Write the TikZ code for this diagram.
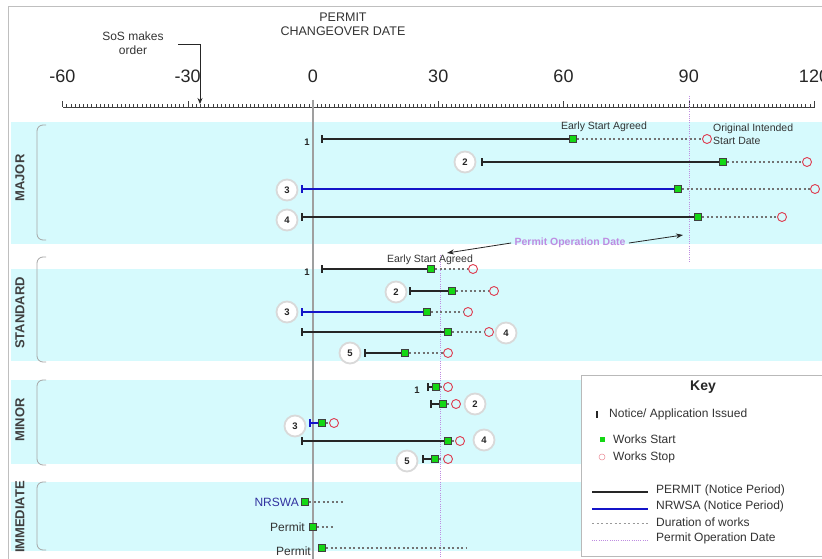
\documentclass[tikz,border=0pt]{standalone}
\usepackage{fontspec}
\setmainfont{Liberation Sans}
\usetikzlibrary{arrows.meta}
\definecolor{bandcyan}{RGB}{214,250,253}
\definecolor{wsgreen}{RGB}{20,215,20}
\definecolor{wsred}{RGB}{222,60,80}
\definecolor{opurple}{RGB}{190,140,225}
\definecolor{nblue}{RGB}{20,20,200}
\definecolor{ntext}{RGB}{50,50,160}
\tikzset{
	wstart/.style={rectangle,draw=black!75,fill=wsgreen,line width=0.6pt,minimum size=7.5pt,inner sep=0pt},
	wstop/.style={circle,draw=wsred,line width=0.9pt,minimum size=9pt,inner sep=0pt},
	notice/.style={rectangle,fill=black!85,minimum width=2.2pt,minimum height=8pt,inner sep=0pt},
	bnotice/.style={notice,fill=nblue},
	permit/.style={line width=2.4pt,black!85},
	nrswa/.style={line width=2.4pt,nblue},
	works/.style={line width=1.3pt,black!55,dash pattern=on 2pt off 2.5pt},
	opdate/.style={line width=1pt,opurple,dash pattern=on 1pt off 1.2pt},
	rowno/.style={font=\fontsize{9.5}{11}\selectfont\bfseries,text=black!85},
	rowcirc/.style={circle,draw=gray!30,line width=1.8pt,fill=white,minimum size=21pt,inner sep=0pt,font=\fontsize{9.5}{11}\selectfont\bfseries,text=black!85},
	band/.style={fill=bandcyan},
	bracket/.style={draw=gray!70,line width=0.8pt,rounded corners=6pt},
	bandname/.style={rotate=90,font=\fontsize{13}{15}\selectfont\bfseries,text=black!75},
	note/.style={font=\fontsize{10.5}{13}\selectfont,text=black!80},
	keytxt/.style={font=\fontsize{12}{14}\selectfont,text=black!80,anchor=west,inner sep=0pt},
	tick/.style={black!75,line width=0.5pt}
}

\begin{document}
\begin{tikzpicture}[x=1pt,y=-1pt]
	\useasboundingbox (0,0) rectangle (822,559);
	\fill[white] (0,0) rectangle (822,559);
	\draw[gray!50,line width=1pt] (8,559) -- (8,7) -- (822,7);

	% bands
	\fill[band] (11,122) rectangle (822,244);
	\fill[band] (11,269) rectangle (822,361);
	\fill[band] (11,380) rectangle (822,464);
	\fill[band] (11,482) rectangle (822,551);

	\draw[bracket] (46,125) -- (37,125) -- (37,240) -- (46,240);
	\draw[bracket] (46,257) -- (37,257) -- (37,362) -- (46,362);
	\draw[bracket] (46,380) -- (37,380) -- (37,465) -- (46,465);
	\draw[bracket] (46,482) -- (37,482) -- (37,550) -- (46,550);

	\node[bandname] (major) at (20,178) {MAJOR};
	\node[bandname] (standard) at (20,313) {STANDARD};
	\node[bandname] (minor) at (20,420) {MINOR};
	\node[bandname] (immediate) at (20,517) {IMMEDIATE};

	% time axis
	\node[font=\fontsize{12.5}{14}\selectfont,align=center,text=black!80] (changeover) at (343,24) {PERMIT\\CHANGEOVER DATE};
	\node[font=\fontsize{12}{14}\selectfont,align=center,text=black!80] (sos) at (133,43) {SoS makes\\order};
	\coordinate (sosa) at (178,44);
	\coordinate (sosb) at (200,104);
	\draw[black!85,line width=0.8pt,-{Stealth[length=6pt,width=5pt]}] (sosa) -| (sosb);

	\foreach \d in {-60,-30,...,120}
		\node[font=\fontsize{18}{20}\selectfont,text=black!85] (ax\d) at ({313+4.175*\d},76) {\d};
	\draw[tick] (63,107) -- (815,107);
	\foreach \d in {-60,...,120}
		\draw[tick] ({313+4.175*\d},107) -- ++(0,-3);
	\foreach \d in {-60,-30,...,120}
		\draw[tick] ({313+4.175*\d},107) -- ++(0,-6);

	\draw[gray!75,line width=1.4pt] (313,100) -- (313,559);
	\draw[opdate] (689,96) -- (689,262);
	\draw[opdate] (440,255) -- (440,559);

	% MAJOR
	\node[note] (esa1) at (604,127) {Early Start Agreed};
	\node[note,align=left,anchor=west,inner sep=0pt] (oisd) at (713,134) {Original Intended\\Start Date};

	\node[notice] (m1n) at (322,139) {};
	\node[wstart] (m1s) at (573,139) {};
	\node[wstop] (m1e) at (707,139) {};
	\node[rowno] (m1k) at (307,142) {1};
	\draw[permit] (m1n) -- (m1s);
	\draw[works] (m1s) -- (m1e);

	\node[notice] (m2n) at (482,162) {};
	\node[wstart] (m2s) at (723,162) {};
	\node[wstop] (m2e) at (807,162) {};
	\node[rowcirc] (m2k) at (465,162) {2};
	\draw[permit] (m2n) -- (m2s);
	\draw[works] (m2s) -- (m2e);

	\node[bnotice] (m3n) at (302,189) {};
	\node[wstart] (m3s) at (678,189) {};
	\node[wstop] (m3e) at (815,189) {};
	\node[rowcirc] (m3k) at (287,190) {3};
	\draw[nrswa] (m3n) -- (m3s);
	\draw[works] (m3s) -- (m3e);

	\node[notice] (m4n) at (302,217) {};
	\node[wstart] (m4s) at (698,217) {};
	\node[wstop] (m4e) at (782,217) {};
	\node[rowcirc] (m4k) at (287,220) {4};
	\draw[permit] (m4n) -- (m4s);
	\draw[works] (m4s) -- (m4e);

	\node[font=\fontsize{10.5}{12}\selectfont\bfseries,text=opurple] (pod) at (570,243) {Permit Operation Date};
	\coordinate (podl) at (447,253);
	\coordinate (podr) at (683,235);
	\draw[black!85,line width=0.8pt,-{Stealth[length=7pt,width=5pt]}] (pod.west) -- (podl);
	\draw[black!85,line width=0.8pt,-{Stealth[length=7pt,width=5pt]}] (pod.east) -- (podr);

	% STANDARD
	\node[note] (esa2) at (430,260) {Early Start Agreed};

	\node[notice] (s1n) at (322,269) {};
	\node[wstart] (s1s) at (431,269) {};
	\node[wstop] (s1e) at (473,269) {};
	\node[rowno] (s1k) at (307,272) {1};
	\draw[permit] (s1n) -- (s1s);
	\draw[works] (s1s) -- (s1e);

	\node[notice] (s2n) at (410,291) {};
	\node[wstart] (s2s) at (452,291) {};
	\node[wstop] (s2e) at (494,291) {};
	\node[rowcirc] (s2k) at (396,292) {2};
	\draw[permit] (s2n) -- (s2s);
	\draw[works] (s2s) -- (s2e);

	\node[bnotice] (s3n) at (302,312) {};
	\node[wstart] (s3s) at (427,312) {};
	\node[wstop] (s3e) at (468,312) {};
	\node[rowcirc] (s3k) at (287,312) {3};
	\draw[nrswa] (s3n) -- (s3s);
	\draw[works] (s3s) -- (s3e);

	\node[notice] (s4n) at (302,332) {};
	\node[wstart] (s4s) at (448,332) {};
	\node[wstop] (s4e) at (489,332) {};
	\node[rowcirc] (s4k) at (506,333) {4};
	\draw[permit] (s4n) -- (s4s);
	\draw[works] (s4s) -- (s4e);

	\node[notice] (s5n) at (365,353) {};
	\node[wstart] (s5s) at (405,353) {};
	\node[wstop] (s5e) at (448,353) {};
	\node[rowcirc] (s5k) at (350,353) {5};
	\draw[permit] (s5n) -- (s5s);
	\draw[works] (s5s) -- (s5e);

	% MINOR
	\node[notice] (n1n) at (428,387) {};
	\node[wstart] (n1s) at (436,387) {};
	\node[wstop] (n1e) at (448,387) {};
	\node[rowno] (n1k) at (417,390) {1};
	\draw[permit] (n1n) -- (n1s);
	\draw[works] (n1s) -- (n1e);

	\node[notice] (n2n) at (431,404) {};
	\node[wstart] (n2s) at (443,404) {};
	\node[wstop] (n2e) at (456,404) {};
	\node[rowcirc] (n2k) at (475,404) {2};
	\draw[permit] (n2n) -- (n2s);
	\draw[works] (n2s) -- (n2e);

	\node[bnotice] (n3n) at (310,423) {};
	\node[wstart] (n3s) at (322,423) {};
	\node[wstop] (n3e) at (334,423) {};
	\node[rowcirc] (n3k) at (295,426) {3};
	\draw[nrswa] (n3n) -- (n3s);
	\draw[works] (n3s) -- (n3e);

	\node[notice] (n4n) at (302,441) {};
	\node[wstart] (n4s) at (448,441) {};
	\node[wstop] (n4e) at (460,441) {};
	\node[rowcirc] (n4k) at (484,440) {4};
	\draw[permit] (n4n) -- (n4s);
	\draw[works] (n4s) -- (n4e);

	\node[notice] (n5n) at (423,459) {};
	\node[wstart] (n5s) at (435,459) {};
	\node[wstop] (n5e) at (448,459) {};
	\node[rowcirc] (n5k) at (407,461) {5};
	\draw[permit] (n5n) -- (n5s);
	\draw[works] (n5s) -- (n5e);

	% IMMEDIATE
	\node[wstart] (i1s) at (305,502) {};
	\coordinate (i1e) at (345,502);
	\node[font=\fontsize{12}{14}\selectfont,text=ntext,anchor=east,inner sep=0pt] (i1k) at (299,502) {NRSWA};
	\draw[works] (i1s) -- (i1e);

	\node[wstart] (i2s) at (313,527) {};
	\coordinate (i2e) at (335,527);
	\node[font=\fontsize{12}{14}\selectfont,text=black!80,anchor=east,inner sep=0pt] (i2k) at (305,527) {Permit};
	\draw[works] (i2s) -- (i2e);

	\node[wstart] (i3s) at (322,548) {};
	\coordinate (i3e) at (467,548);
	\node[font=\fontsize{12}{14}\selectfont,text=black!80,anchor=east,inner sep=0pt] (i3k) at (311,551) {Permit};
	\draw[works] (i3s) -- (i3e);

	% key
	\draw[gray!55,line width=1pt,fill=white] (581,375) rectangle (840,556);
	\node[font=\fontsize{14}{16}\selectfont\bfseries,text=black!85] (keyt) at (703,387) {Key};

	\node[notice,minimum height=7pt,minimum width=1.8pt] (keyn) at (597,414) {};
	\node[keytxt] (keynt) at (609,414) {Notice/ Application Issued};
	\node[wstart,draw=none,minimum size=5pt] (keys) at (602,439) {};
	\node[keytxt] (keyst) at (613,439) {Works Start};
	\node[wstop,draw=wsred!60,line width=0.5pt,minimum size=6pt] (keye) at (602,457) {};
	\node[keytxt] (keyet) at (613,457) {Works Stop};

	\coordinate (kp1) at (592,492);
	\coordinate (kp2) at (648,492);
	\draw[permit,line width=2pt] (kp1) -- (kp2);
	\node[keytxt] (kpt) at (656,490) {PERMIT (Notice Period)};
	\coordinate (kb1) at (592,509);
	\coordinate (kb2) at (648,509);
	\draw[nrswa,line width=2pt] (kb1) -- (kb2);
	\node[keytxt] (kbt) at (656,506) {NRWSA (Notice Period)};
	\coordinate (kw1) at (592,523);
	\coordinate (kw2) at (648,523);
	\draw[works,line width=0.6pt,gray!80] (kw1) -- (kw2);
	\node[keytxt] (kwt) at (656,522) {Duration of works};
	\coordinate (ko1) at (592,540);
	\coordinate (ko2) at (648,540);
	\draw[opdate] (ko1) -- (ko2);
	\node[keytxt] (kot) at (656,538) {Permit Operation Date};
\end{tikzpicture}
\end{document}
